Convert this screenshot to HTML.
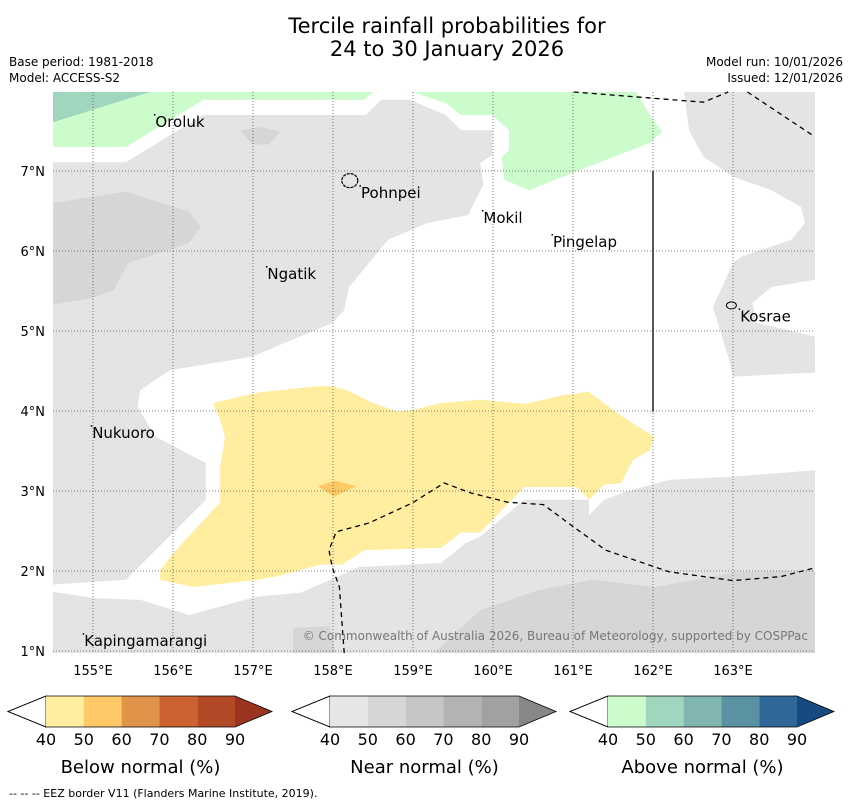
<!DOCTYPE html>
<html><head><meta charset="utf-8"><style>
body{margin:0;background:#fff;width:850px;height:804px;overflow:hidden;font-family:"DejaVu Sans","Liberation Sans",sans-serif}
svg{position:absolute;left:0;top:0}
</style></head><body>
<svg id="chart" width="850" height="804" viewBox="0 0 850 804" font-family="DejaVu Sans, Liberation Sans, sans-serif">
  <text x="447" y="33" font-size="21" text-anchor="middle">Tercile rainfall probabilities for</text>
  <text x="447" y="56" font-size="21" text-anchor="middle">24 to 30 January 2026</text>
  <text x="9" y="66" font-size="12">Base period: 1981-2018</text>
  <text x="9" y="82" font-size="12">Model: ACCESS-S2</text>
  <text x="843" y="66" font-size="12" text-anchor="end">Model run: 10/01/2026</text>
  <text x="843" y="82" font-size="12" text-anchor="end">Issued: 12/01/2026</text>
  <g id="map"></g>
  <g id="axes"></g>
  <g id="bars"></g>
  <text x="9" y="797" font-size="11">--  --  -- EEZ border V11 (Flanders Marine Institute, 2019).</text>
</svg>
<script>
const lonMin=154.5, lonMax=164.025, latMin=0.975, latMax=7.9875;
const X0=53, X1=815, Y0=92, Y1=653;
const lonTicks=[155,156,157,158,159,160,161,162,163];
const latTicks=[1,2,3,4,5,6,7];
const grayLeft=[[154.5,7.11],[155.41,7.11],[156.38,7.7],[158.41,7.7],[158.6,7.89],[158.96,7.89],[159.41,7.7],[159.6,7.51],[159.99,7.51],[159.99,7.2],[159.84,7.1],[159.88,6.83],[159.69,6.45],[159.18,6.35],[158.69,6.14],[158.2,5.55],[158.14,5.26],[157.99,5.1],[156.99,4.68],[155.96,4.51],[155.59,4.26],[155.56,4.05],[155.78,3.68],[156.33,3.39],[156.41,3.35],[156.41,2.89],[155.41,1.89],[154.5,1.83]];
const grayBottom=[[154.5,1.74],[155.03,1.66],[155.59,1.64],[156.2,1.45],[157.05,1.68],[157.6,1.73],[158.33,2.05],[159.35,2.1],[159.66,2.35],[159.84,2.43],[160.39,2.89],[161.2,2.89],[161.2,2.7],[161.39,2.89],[161.66,2.99],[162.21,3.14],[163.0,3.18],[164.025,3.26],[164.025,0.975],[154.5,0.975]];
const grayRight=[[162.39,7.9875],[164.025,7.9875],[164.025,5.64],[163.48,5.55],[163.24,5.35],[163.3,5.1],[164.025,4.93],[164.025,4.48],[163.0,4.43],[162.94,4.68],[162.75,5.3],[163.0,5.85],[163.11,5.93],[163.73,6.14],[163.9,6.35],[163.85,6.55],[163.48,6.76],[163.0,6.93],[162.63,7.18],[162.45,7.51]];
const darkLeft=[[154.5,6.6],[155.41,6.74],[156.2,6.49],[156.35,6.3],[156.2,6.1],[155.44,5.85],[155.26,5.51],[154.99,5.41],[154.5,5.33]];
const darkSmall=[[156.84,7.51],[157.11,7.55],[157.34,7.49],[157.2,7.33],[156.99,7.33]];
const darkBottomSmall=[[157.5,1.29],[157.96,1.31],[158.03,0.975],[157.5,0.975]];
const darkBottomBig=[[159.26,0.975],[159.84,1.51],[160.56,1.76],[161.24,1.89],[162.03,1.8],[163.0,1.98],[164.025,2.01],[164.025,0.975]];
const greenLeft=[[154.5,7.9875],[158.5,7.9875],[158.39,7.89],[156.38,7.89],[155.41,7.3],[154.5,7.3]];
const greenDark=[[154.5,7.9875],[155.71,7.9875],[154.5,7.61]];
const greenRight=[[158.99,7.9875],[159.41,7.85],[159.6,7.7],[159.99,7.7],[160.2,7.51],[160.2,7.26],[160.11,7.18],[160.14,6.89],[160.45,6.76],[161.18,7.05],[161.96,7.35],[162.11,7.49],[161.96,7.7],[161.79,7.9875]];
const yellow=[[156.5,4.1],[157.05,4.23],[157.81,4.31],[157.99,4.31],[158.2,4.25],[158.5,4.1],[158.81,3.99],[158.99,4.01],[159.35,4.1],[159.84,4.14],[160.18,4.11],[160.41,4.09],[160.88,4.2],[161.2,4.24],[161.54,3.98],[162.01,3.68],[161.96,3.51],[161.75,3.39],[161.6,3.1],[161.39,3.08],[161.2,2.89],[161.05,3.05],[160.39,3.05],[159.84,2.48],[159.6,2.48],[159.35,2.29],[158.39,2.26],[158.11,2.08],[157.84,2.08],[157.29,1.93],[157.05,1.89],[156.26,1.8],[155.84,1.89],[155.84,2.01],[156.01,2.23],[156.59,2.86],[156.59,3.3],[156.65,3.68],[156.59,3.89]];
const orange=[[157.81,3.06],[158.03,3.13],[158.29,3.06],[158.01,2.93]];
const eezBottom=[[158.14,0.975],[158.08,1.8],[157.99,2.05],[157.95,2.26],[158.04,2.49],[158.45,2.6],[158.99,2.85],[159.39,3.1],[159.71,2.98],[160.18,2.86],[160.63,2.83],[160.94,2.6],[161.41,2.26],[162.2,1.99],[163.0,1.88],[163.6,1.93],[164.025,2.04]];
const eezTop1=[[161.01,7.9875],[162.63,7.86],[162.94,7.9875]];
const eezTop2=[[163.18,7.9875],[163.99,7.45]];
const solidLine=[[162.0,7.0],[162.0,3.99]];
const placeNames=["Oroluk","Pohnpei","Mokil","Pingelap","Ngatik","Kosrae","Nukuoro","Kapingamarangi"];
const placeLon=[155.78,158.35,159.88,160.75,157.18,163.09,154.99,154.89];
const placeLat=[7.55,6.66,6.35,6.05,5.65,5.12,3.66,1.06];
const cbTicks=["40","50","60","70","80","90"];
const cbBelow=["#ffeda0","#fec966","#e0944a","#cc6230","#b24a28","#9a3420"];
const cbNear=["#e6e6e6","#d6d6d6","#c6c6c6","#b3b3b3","#a1a1a1","#878787"];
const cbAbove=["#ccfccb","#a0d6bd","#80b5b0","#5a91a3","#2f6798","#174a80"];

const sx=lon=>X0+(lon-lonMin)/(lonMax-lonMin)*(X1-X0);
const sy=lat=>Y0+(latMax-lat)/(latMax-latMin)*(Y1-Y0);
const NS='http://www.w3.org/2000/svg';
const map=document.getElementById('map');
function mk(tag,attrs,parent){const e=document.createElementNS(NS,tag);for(const k in attrs)e.setAttribute(k,attrs[k]);parent.appendChild(e);return e;}
const pts=a=>a.map(p=>sx(p[0]).toFixed(1)+','+sy(p[1]).toFixed(1)).join(' ');

const layers=[[grayLeft,'#e4e4e4','gray-region-left'],[grayBottom,'#e4e4e4','gray-region-bottom'],[grayRight,'#e4e4e4','gray-region-right'],[darkLeft,'#d6d6d6','dark-gray-left'],[darkSmall,'#d6d6d6','dark-gray-small'],[darkBottomSmall,'#d6d6d6','dark-gray-bottom-small'],[darkBottomBig,'#d6d6d6','dark-gray-bottom'],[greenLeft,'#ccfccb','green-region-left'],[greenDark,'#a0d6bd','dark-green-region'],[greenRight,'#ccfccb','green-region-right'],[yellow,'#ffeda0','yellow-region'],[orange,'#fec966','orange-region']];
for(const L of layers){
  const p=mk('polygon',{points:pts(L[0]),fill:L[1]},map);
  
  
}
for(const t of lonTicks){
  const l=mk('line',{x1:sx(t),x2:sx(t),y1:Y0,y2:Y1,stroke:'#555','stroke-width':0.8,'stroke-dasharray':'1,2'},map);
  
  
}
for(const t of latTicks){
  const l=mk('line',{x1:X0,x2:X1,y1:sy(t),y2:sy(t),stroke:'#555','stroke-width':0.8,'stroke-dasharray':'1,2'},map);
  
  
}
for(const [arr,nm] of [[eezBottom,'eez-border-south'],[eezTop1,'eez-border-north'],[eezTop2,'eez-border-northeast']]){
  const l=mk('polyline',{points:pts(arr),fill:'none',stroke:'#000','stroke-width':1.3,'stroke-dasharray':'5,4'},map);
  
  
}
const sl=mk('polyline',{points:pts(solidLine),fill:'none',stroke:'#222','stroke-width':1.5},map);


const pohn=mk('ellipse',{cx:sx(158.21),cy:sy(6.88),rx:8,ry:7,fill:'none',stroke:'#000','stroke-width':1.2,'stroke-dasharray':'3,1'},map);


const kos=mk('ellipse',{cx:sx(162.98),cy:sy(5.32),rx:5,ry:3.5,fill:'none',stroke:'#000','stroke-width':1},map);


placeNames.forEach((n,i)=>{
  const t=mk('text',{x:sx(placeLon[i]),y:sy(placeLat[i]),'font-size':15,fill:'#000'},map);
  t.textContent=n;
  
  
  const d=mk('rect',{x:sx(placeLon[i])-1.5,y:sy(placeLat[i])-13,width:1.5,height:1.5,fill:'#000'},map);
  
  
});
const cr=mk('text',{x:808,y:640,'font-size':12,fill:'#777','text-anchor':'end'},map);
cr.textContent='© Commonwealth of Australia 2026, Bureau of Meteorology, supported by COSPPac';


const axes=document.getElementById('axes');
for(const t of lonTicks){
  const e=mk('text',{x:sx(t),y:675,'font-size':13,'text-anchor':'middle'},axes);
  e.textContent=t+'°E';
  
  
}
for(const t of latTicks){
  const e=mk('text',{x:45,y:sy(t)+5,'font-size':13,'text-anchor':'end'},axes);
  e.textContent=t+'°N';
  
  
}
const bars=document.getElementById('bars');
const cbs=[[46,cbBelow,'Below normal (%)','below-normal-colorbar'],[330,cbNear,'Near normal (%)','near-normal-colorbar'],[608,cbAbove,'Above normal (%)','above-normal-colorbar']];
const bw=37.8, by=696, bh=31;
for(const [x0,cols,title,nm] of cbs){
  const g=mk('g',{},bars);
  
  
  const lt=mk('polygon',{points:`${x0},${by} ${x0},${by+bh} ${x0-38},${by+bh/2}`,fill:'#fff',stroke:'#000','stroke-width':0.8},g);
  
  
  for(let i=0;i<5;i++){
    const r=mk('rect',{x:x0+i*bw,y:by,width:bw,height:bh,fill:cols[i]},g);
    
    
  }
  const xe=x0+5*bw;
  const rt=mk('polygon',{points:`${xe},${by} ${xe},${by+bh} ${xe+37},${by+bh/2}`,fill:cols[5]},g);
  
  
  const ol=mk('polygon',{points:`${x0},${by} ${xe},${by} ${xe+37},${by+bh/2} ${xe},${by+bh} ${x0},${by+bh} ${x0-38},${by+bh/2}`,fill:'none',stroke:'#000','stroke-width':0.8},g);
  
  
  cbTicks.forEach((t,i)=>{
    const e=mk('text',{x:x0+i*bw,y:745,'font-size':16,'text-anchor':'middle'},g);
    e.textContent=t;
    
    
  });
  const tt=mk('text',{x:x0+2.5*bw,y:773,'font-size':18,'text-anchor':'middle'},g);
  tt.textContent=title;
  
  
}
</script>
</body></html>
